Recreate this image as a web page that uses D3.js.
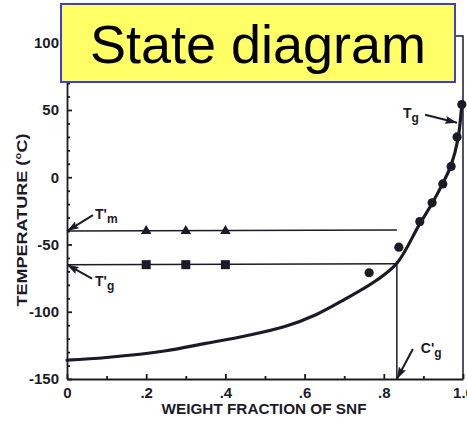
<!DOCTYPE html>
<html>
<head>
<meta charset="utf-8">
<script src="https://cdn.jsdelivr.net/npm/d3@7"></script>
<style>
  body { margin: 0; background: #ffffff; }
  text { font-family: "Liberation Sans", Arial, sans-serif; }
  .axis text { font-weight: bold; font-size: 15px; fill: #1b1b28; }
  .axis path, .axis line { stroke: #1b1b28; stroke-width: 1.8; }
</style>
</head>
<body>
<div id="chart"></div>
<script>
// values
var xTicks = [0, 0.2, 0.4, 0.6, 0.8, 1.0];
var xTickLabels = ["0", ".2", ".4", ".6", ".8", "1.0"];
var yTicks = [-150, -100, -50, 0, 50, 100];

// glass transition curve (Tg) of the SNF / water system
var tgCurveX = [0, 0.1, 0.25, 0.35, 0.45, 0.55, 0.63, 0.7, 0.78, 0.833, 0.89, 0.92, 0.947, 0.97, 0.987, 0.997];
var tgCurveY = [-136, -134, -129, -123.5, -118, -111, -102, -91, -77, -64, -35, -20.5, -5.7, 9, 28, 54];

// measured Tg points
var tgDotsX = [0.763, 0.838, 0.891, 0.922, 0.949, 0.970, 0.985, 0.997];
var tgDotsY = [-71, -52, -33, -19, -5, 8, 30, 54];

// T'm points (triangles) and T'g points (squares)
var tmPrimeX = [0.2, 0.3, 0.4];
var tmPrimeY = [-40, -40, -40];
var tgPrimeX = [0.2, 0.3, 0.4];
var tgPrimeY = [-65, -65, -65];

// reference lines
var tmPrimeTemp = -40;
var tgPrimeTemp = -65;
var cgPrimeFraction = 0.833;

var svgWidth = 467;
var svgHeight = 421;

var margin = { top: 36, right: 4, bottom: 42, left: 67 };
var width = svgWidth - margin.left - margin.right;
var height = svgHeight - margin.top - margin.bottom;

var ink = "#1b1b28";

var svg = d3.select("#chart")
  .append("svg")
  .attr("width", svgWidth)
  .attr("height", svgHeight);

svg.append("defs").append("marker")
  .attr("id", "arrow")
  .attr("markerUnits", "userSpaceOnUse")
  .attr("viewBox", "0 0 12 8")
  .attr("refX", 12)
  .attr("refY", 4)
  .attr("markerWidth", 12)
  .attr("markerHeight", 8)
  .attr("orient", "auto")
  .append("path")
  .attr("d", "M0,0 L12,4 L0,8 L2,4 z")
  .attr("fill", ink);

var chartGroup = svg.append("g")
  .attr("transform", `translate(${margin.left}, ${margin.top})`);

var xLinearScale = d3.scaleLinear().domain([0, 1]).range([0, width]);
var yLinearScale = d3.scaleLinear().domain([-150, 105]).range([height, 0]);

// minor ticks first, majors on top
var xMinor = d3.range(0.1, 1, 0.2);
var yMinor = d3.range(-140, 101, 10).filter(d => d % 50 !== 0);

chartGroup.append("g")
  .attr("class", "axis")
  .attr("transform", `translate(0, ${height})`)
  .call(d3.axisBottom(xLinearScale).tickValues(xMinor).tickSize(-3).tickFormat(""))
  .select(".domain").remove();

chartGroup.append("g")
  .attr("class", "axis")
  .call(d3.axisLeft(yLinearScale).tickValues(yMinor).tickSize(-3).tickFormat(""))
  .select(".domain").remove();

chartGroup.append("g")
  .attr("class", "axis")
  .attr("transform", `translate(0, ${height})`)
  .call(d3.axisBottom(xLinearScale)
    .tickValues(xTicks)
    .tickSize(-5)
    .tickSizeOuter(0)
    .tickPadding(8)
    .tickFormat((d, i) => xTickLabels[i]));

chartGroup.append("g")
  .attr("class", "axis")
  .call(d3.axisLeft(yLinearScale)
    .tickValues(yTicks)
    .tickSize(-5)
    .tickSizeOuter(0)
    .tickPadding(8)
    .tickFormat(d => String(d)));

// top and right frame
chartGroup.append("path")
  .attr("d", `M0,0 H${width} V${height}`)
  .attr("fill", "none")
  .attr("stroke", ink)
  .attr("stroke-width", 1.5);

// axis titles
chartGroup.append("text")
  .attr("x", -184)
  .attr("y", -40)
  .attr("transform", "rotate(-90)")
  .attr("text-anchor", "middle")
  .attr("font-weight", "bold")
  .attr("font-size", 14)
  .attr("textLength", 173)
  .attr("lengthAdjust", "spacingAndGlyphs")
  .attr("fill", ink)
  .text("TEMPERATURE (°C)");

chartGroup.append("text")
  .attr("x", 197)
  .attr("y", height + 35)
  .attr("text-anchor", "middle")
  .attr("font-weight", "bold")
  .attr("font-size", 15)
  .attr("textLength", 205)
  .attr("lengthAdjust", "spacingAndGlyphs")
  .attr("fill", ink)
  .text("WEIGHT FRACTION OF SNF");

// T'm and T'g horizontal lines, C'g vertical drop
chartGroup.append("line")
  .attr("x1", xLinearScale(0)).attr("x2", xLinearScale(cgPrimeFraction))
  .attr("y1", yLinearScale(tmPrimeTemp)).attr("y2", yLinearScale(tmPrimeTemp + 0.8))
  .attr("stroke", ink).attr("stroke-width", 1.5);

chartGroup.append("line")
  .attr("x1", xLinearScale(0)).attr("x2", xLinearScale(cgPrimeFraction))
  .attr("y1", yLinearScale(tgPrimeTemp)).attr("y2", yLinearScale(tgPrimeTemp + 0.6))
  .attr("stroke", ink).attr("stroke-width", 1.5);

chartGroup.append("line")
  .attr("x1", xLinearScale(cgPrimeFraction)).attr("x2", xLinearScale(cgPrimeFraction))
  .attr("y1", yLinearScale(tgPrimeTemp)).attr("y2", yLinearScale(-150))
  .attr("stroke", ink).attr("stroke-width", 1.5);

// Tg curve
var curvePoints = tgCurveX.map((d, i) => [d, tgCurveY[i]]);
var tgLine = d3.line()
  .x(d => xLinearScale(d[0]))
  .y(d => yLinearScale(d[1]))
  .curve(d3.curveCatmullRom.alpha(0.5));

chartGroup.append("path")
  .datum(curvePoints)
  .attr("d", tgLine)
  .attr("fill", "none")
  .attr("stroke", ink)
  .attr("stroke-width", 3.2)
  .attr("stroke-linecap", "round");

// measured points
chartGroup.selectAll(".dot")
  .data(tgDotsX.map((d, i) => [d, tgDotsY[i]]))
  .enter()
  .append("circle")
  .attr("class", "dot")
  .attr("cx", d => xLinearScale(d[0]))
  .attr("cy", d => yLinearScale(d[1]))
  .attr("r", 4.6)
  .attr("fill", ink);

chartGroup.selectAll(".tri")
  .data(tmPrimeX.map((d, i) => [d, tmPrimeY[i]]))
  .enter()
  .append("path")
  .attr("class", "tri")
  .attr("transform", d => `translate(${xLinearScale(d[0])}, ${yLinearScale(d[1])})`)
  .attr("d", d3.symbol().type(d3.symbolTriangle).size(48))
  .attr("fill", ink);

chartGroup.selectAll(".sq")
  .data(tgPrimeX.map((d, i) => [d, tgPrimeY[i]]))
  .enter()
  .append("rect")
  .attr("class", "sq")
  .attr("x", d => xLinearScale(d[0]) - 4.5)
  .attr("y", d => yLinearScale(d[1]) - 4.5)
  .attr("width", 9)
  .attr("height", 9)
  .attr("fill", ink);

// labelled arrows: tip in data units, tail / label as pixel offsets
var notes = [
  { tip: [0, tmPrimeTemp], tail: [26, -16], label: [28, -12], main: "T", prime: true, sub: "m" },
  { tip: [0, tgPrimeTemp], tail: [25, 14], label: [28, 21], main: "T", prime: true, sub: "g" },
  { tip: [0.985, 40.5], tail: [-32, -8], label: [-54, -5], main: "T", prime: false, sub: "g" },
  { tip: [cgPrimeFraction, -150], tail: [16, -30], label: [24, -26], main: "C", prime: true, sub: "g" }
];

notes.forEach(function(n) {
  var tx = xLinearScale(n.tip[0]);
  var ty = yLinearScale(n.tip[1]);

  chartGroup.append("line")
    .attr("x1", tx + n.tail[0])
    .attr("y1", ty + n.tail[1])
    .attr("x2", tx)
    .attr("y2", ty)
    .attr("stroke", ink)
    .attr("stroke-width", 2)
    .attr("marker-end", "url(#arrow)");

  var label = chartGroup.append("text")
    .attr("x", tx + n.label[0])
    .attr("y", ty + n.label[1])
    .attr("font-weight", "bold")
    .attr("font-size", 14)
    .attr("fill", ink);

  label.append("tspan").text(n.prime ? n.main + "'" : n.main);
  label.append("tspan").attr("font-size", 12).attr("dy", 4).text(n.sub);
});

// title box over the plot
svg.append("rect")
  .attr("x", 61)
  .attr("y", 4)
  .attr("width", 394)
  .attr("height", 78)
  .attr("fill", "#ffff66")
  .attr("stroke", "#3f3fc8")
  .attr("stroke-width", 2);

svg.append("text")
  .attr("x", 258)
  .attr("y", 63)
  .attr("text-anchor", "middle")
  .attr("font-size", 54)
  .attr("fill", "#000000")
  .text("State diagram");
</script>
</body>
</html>
